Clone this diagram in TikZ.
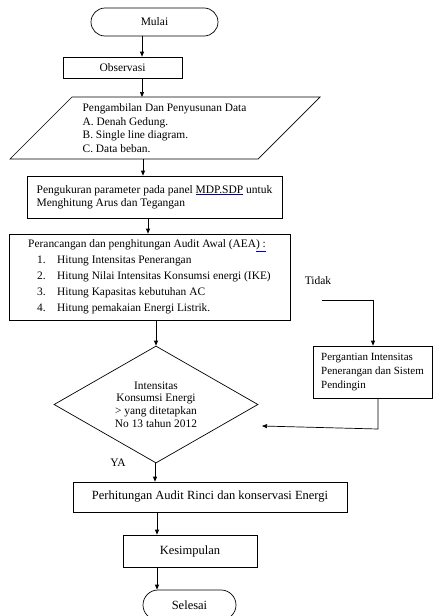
\documentclass[tikz,border=0pt]{standalone}
\usepackage{fontspec}
\setmainfont{Liberation Serif}
\usetikzlibrary{shapes.geometric,shapes.misc,arrows.meta}
\newcommand\blueul[1]{{\color{blue!75!black}\underline{\color{black}#1}}}
\begin{document}
\begin{tikzpicture}[x=1pt,y=-1pt,line width=0.7pt,
  arr/.style={-{Triangle[length=5pt,width=4pt]}},
  box/.style={draw,rectangle,inner sep=0pt,align=left},
  term/.style={draw,rounded rectangle,inner sep=0pt},
  fa/.style={font=\fontsize{11.5}{13.5}\selectfont},
  fb/.style={font=\fontsize{12.5}{15}\selectfont}]
\clip (0,0) rectangle (433,616);
\useasboundingbox (0,0) rectangle (433,616);
% start
\node[term,fa,minimum width=127,minimum height=28] (mulai) at (154.5,22) {Mulai};
\node[box,fa,minimum width=119,minimum height=21] (obs) at (122.5,67.5) {Observasi};
% data parallelogram
\coordinate (p1) at (72,97);
\coordinate (p2) at (320,97);
\coordinate (p3) at (258,159);
\coordinate (p4) at (10,159);
\draw (p1) -- (p2) -- (p3) -- (p4) -- cycle;
\node[align=left,inner sep=0pt,font=\fontsize{11.4}{13.5}\selectfont] (data) at (164.5,128)
  {Pengambilan Dan Penyusunan Data\\A. Denah Gedung.\\B. Single line diagram.\\C. Data beban.};
\node[box,fa,minimum width=255,minimum height=42] (ukur) at (154.5,197)
  {Pengukuran parameter pada panel \blueul{MDP.SDP} untuk\\Menghitung Arus dan Tegangan};
\node[box,font=\fontsize{11.4}{16}\selectfont,minimum width=281,minimum height=86] (aea) at (149.5,277)
  {Perancangan dan penghitungan Audit Awal (AEA\blueul{) :}\\
   \hspace*{9pt}\makebox[20pt][l]{1.}Hitung Intensitas Penerangan\\
   \hspace*{9pt}\makebox[20pt][l]{2.}Hitung Nilai Intensitas Konsumsi energi (IKE)\\
   \hspace*{9pt}\makebox[20pt][l]{3.}Hitung Kapasitas kebutuhan AC\\
   \hspace*{9pt}\makebox[20pt][l]{4.}Hitung pemakaian Energi Listrik.};
\node[draw,diamond,aspect=1.74,minimum width=204,minimum height=117,inner sep=0pt,align=center,
  font=\fontsize{11.4}{12.8}\selectfont] (dia) at (156,404.5)
  {Intensitas\\Konsumsi Energi\\> yang ditetapkan\\No 13 tahun 2012};
\node[box,font=\fontsize{11}{14.2}\selectfont,minimum width=119,minimum height=52] (ganti) at (372.5,372)
  {Pergantian Intensitas\\Penerangan dan Sistem\\Pendingin};
\node[fa,inner sep=0pt] (tidak) at (318,281) {Tidak};
\node[fa,inner sep=0pt] (ya) at (118,463) {YA};
\node[box,fb,minimum width=274,minimum height=30] (rinci) at (210,497)
  {Perhitungan Audit Rinci dan konservasi Energi};
\node[box,fb,minimum width=134,minimum height=32] (kes) at (190,551) {Kesimpulan};
\node[term,fb,minimum width=93,minimum height=30] (sel) at (189.5,605) {Selesai};
% connectors
\coordinate (t0) at (322,300);
\coordinate (r1) at (378,429);
\coordinate (ret) at (262,426);
\draw[arr] (mulai.south -| 142,0) -- (obs.north -| 142,0);
\draw[arr] (obs.south -| 142,0) -- (p1 -| 142,0);
\draw[arr] (p4 -| 143,0) -- (ukur.north -| 143,0);
\draw[arr] (ukur.south -| 148,0) -- (aea.north -| 148,0);
\draw[arr] (aea.south -| 156,0) -- (dia.north);
\draw[arr] (dia.south -| 155,0) -- (rinci.north -| 155,0);
\draw[arr] (rinci.south -| 157,0) -- (kes.north -| 157,0);
\draw[arr] (kes.south -| 157,0) -- (sel.north -| 157,0);
\draw[arr] (t0) -| (ganti.north -| 373,0);
\draw[arr] (ganti.south -| 378,0) -- (r1) -- (ret);
\end{tikzpicture}
\end{document}
